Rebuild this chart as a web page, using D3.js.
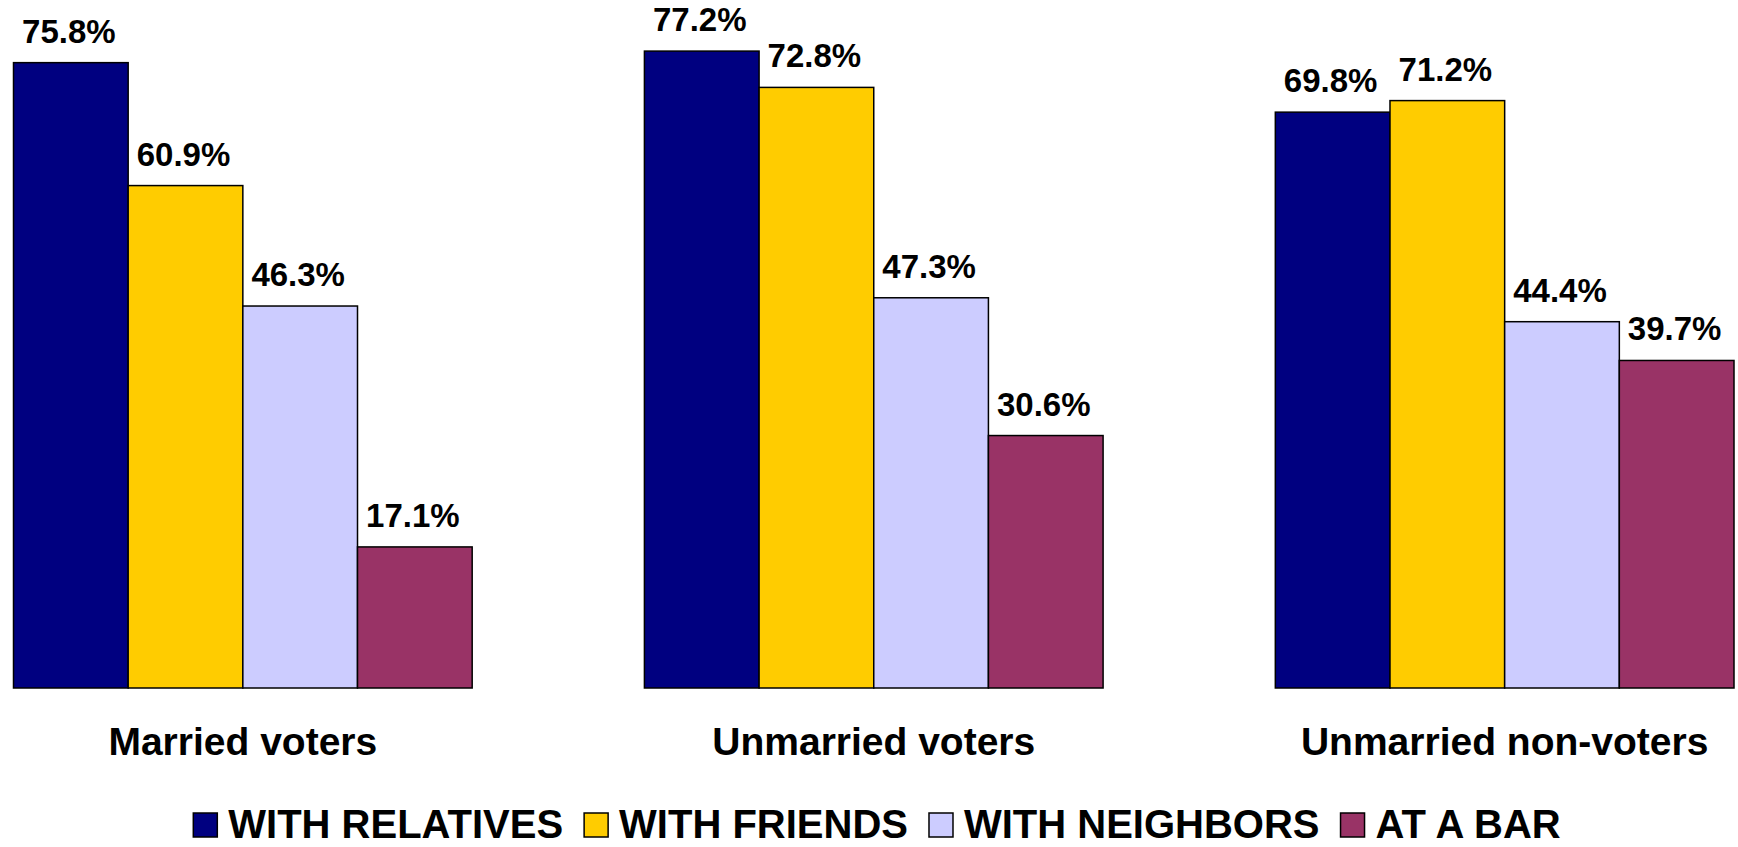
<!DOCTYPE html>
<html>
<head>
<meta charset="utf-8">
<script src="https://cdn.jsdelivr.net/npm/d3@7"></script>
<style>
  html, body { margin: 0; padding: 0; background: #fff; }
  svg { display: block; }
  text { font-family: "Liberation Sans", Arial, sans-serif; font-weight: bold; fill: #000; }
</style>
</head>
<body>
<svg id="chart" width="1738" height="847"></svg>
<script>
const categories = ["Married voters", "Unmarried voters", "Unmarried non-voters"];
const seriesNames = ["WITH RELATIVES", "WITH FRIENDS", "WITH NEIGHBORS", "AT A BAR"];
const withRelatives = [75.8, 77.2, 69.8];
const withFriends = [60.9, 72.8, 71.2];
const withNeighbors = [46.3, 47.3, 44.4];
const atABar = [17.1, 30.6, 39.7];
const seriesColors = ["#000080", "#FFCC00", "#CCCCFF", "#993366"];

const seriesValues = [withRelatives, withFriends, withNeighbors, atABar];

const svg = d3.select("#chart");

const x0 = d3.scaleBand().domain(categories).range([13.5, 1734]).paddingInner(0.273).paddingOuter(0);
const x1 = d3.scaleBand().domain(seriesNames).range([0, x0.bandwidth()]).padding(0);
const y = d3.scaleLinear().domain([0, 80]).range([688, 28]);

const groups = svg.selectAll("g.grp").data(categories).join("g")
  .attr("class", "grp")
  .attr("transform", d => `translate(${x0(d)},0)`);

groups.each(function(cat, ci) {
  const g = d3.select(this);
  const rows = seriesNames.map((s, si) => ({ s, si, v: seriesValues[si][ci] }));
  g.selectAll("rect").data(rows).join("rect")
    .attr("x", d => x1(d.s))
    .attr("y", d => y(d.v))
    .attr("width", x1.bandwidth())
    .attr("height", d => y(0) - y(d.v))
    .attr("fill", d => seriesColors[d.si])
    .attr("stroke", "#000")
    .attr("stroke-width", 1.5);
  g.selectAll("text.val").data(rows).join("text")
    .attr("class", "val")
    .attr("x", d => x1(d.s) + x1.bandwidth() / 2 - 2)
    .attr("y", d => y(d.v) - 20)
    .attr("text-anchor", "middle")
    .style("font-size", "33px")
    .text(d => d.v.toFixed(1) + "%");
});

// category axis labels
const xAxis = d3.axisBottom(x0).tickSize(0).tickPadding(0);
const axG = svg.append("g").attr("transform", `translate(0,${y(0)})`).call(xAxis);
axG.select(".domain").remove();
axG.selectAll("text")
  .attr("y", 67)
  .attr("dy", 0)
  .style("font-size", "39px")
  .style("font-family", '"Liberation Sans", Arial, sans-serif')
  .style("font-weight", "bold")
  .attr("fill", "#000");

// legend
const legend = svg.append("g");
const items = legend.selectAll("g").data(seriesNames).join("g");
items.append("rect")
  .attr("width", 24).attr("height", 24)
  .attr("y", -25)
  .attr("fill", (d, i) => seriesColors[i])
  .attr("stroke", "#000").attr("stroke-width", 1.5);
items.append("text")
  .attr("x", 35)
  .attr("y", 0)
  .style("font-size", "40px")
  .text(d => d);
let xpos = 0;
items.each(function() {
  const g = d3.select(this);
  g.attr("transform", `translate(${xpos},0)`);
  const tw = g.select("text").node().getComputedTextLength();
  xpos += 35 + tw + 21;
});
const totalW = xpos - 21;
legend.attr("transform", `translate(${877 - totalW / 2},838)`);
</script>
</body>
</html>
